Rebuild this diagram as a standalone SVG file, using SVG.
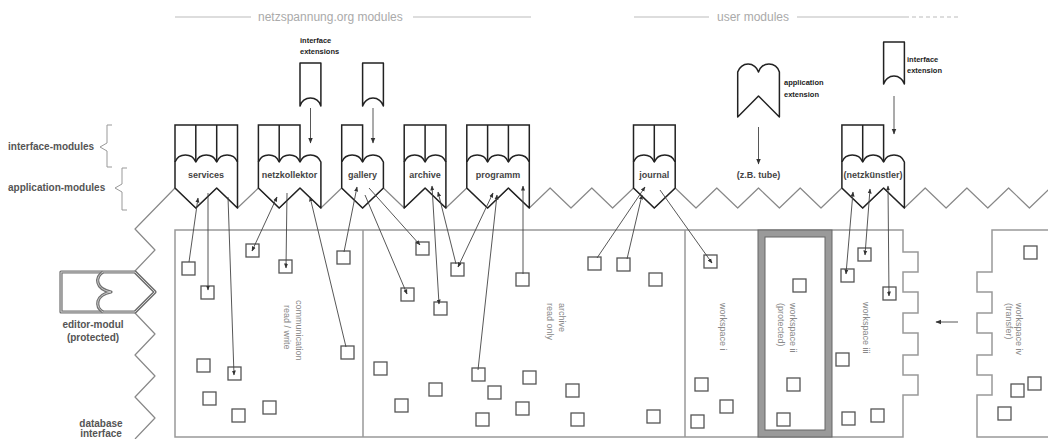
<svg xmlns="http://www.w3.org/2000/svg" width="1048" height="439" viewBox="0 0 1048 439">
<defs>
<marker id="ah" viewBox="0 0 10 10" refX="9" refY="5" markerWidth="5" markerHeight="5" markerUnits="userSpaceOnUse" orient="auto-start-reverse"><path d="M0,1 L10,5 L0,9 Z" fill="#333"/></marker>
<marker id="ahb" viewBox="0 0 10 10" refX="9" refY="5" markerWidth="6" markerHeight="6" markerUnits="userSpaceOnUse" orient="auto-start-reverse"><path d="M0,1 L10,5 L0,9 Z" fill="#333"/></marker>
</defs>
<style>
text{font-family:"Liberation Sans",Arial,sans-serif}
.hdr{font-size:12px;fill:#aaa}
.hl{stroke:#bbb;stroke-width:1;fill:none}
.side{font-size:10px;font-weight:bold;fill:#555}
.lbl{font-size:9px;font-weight:bold;fill:#444;text-anchor:middle}
.ext{font-size:7.5px;font-weight:bold;fill:#222}
.rot{font-size:9px;fill:#888}
.mod{fill:#fff;stroke:#222;stroke-width:1.5;stroke-linejoin:round}
.col{fill:none;stroke:#222;stroke-width:1.5}
.zz{fill:none;stroke:#888;stroke-width:1.2;stroke-linejoin:round}
.db{fill:none;stroke:#999;stroke-width:1.5}
.sq{fill:#fff;stroke:#555;stroke-width:1.3}
.cn{stroke:#444;stroke-width:0.9;fill:none}
.br{fill:none;stroke:#999;stroke-width:1}
.prot{fill:none;stroke:#707070;stroke-width:3.2;stroke-linejoin:round}
.protin{fill:none;stroke:#d0d0d0;stroke-width:1}
</style>

<!-- header -->
<g id="header">
<line class="hl" x1="175" y1="17" x2="251" y2="17"/>
<text class="hdr" x="258" y="21">netzspannung.org modules</text>
<line class="hl" x1="413" y1="17" x2="531" y2="17"/>
<line class="hl" x1="634" y1="17" x2="709" y2="17"/>
<text class="hdr" x="717" y="21">user modules</text>
<line class="hl" x1="797" y1="17" x2="905" y2="17"/>
<line class="hl" x1="905" y1="17" x2="960" y2="17" stroke-dasharray="4 3"/>
</g>

<!-- side labels -->
<g id="side-labels">
<text class="side" x="8" y="150">interface-modules</text>
<path class="br" d="M112,125 H107 V143 L100,147 L107,151 V167 H112"/>
<text class="side" x="8" y="191">application-modules</text>
<path class="br" d="M127,168 H122 V184 L115,188 L122,192 V210 H127"/>
</g>

<!-- database area -->
<g id="database">
<path class="zz" d="M135,439 L155,418 L135,397 L155,376 L135,355 L155,334 L135,313 L155,292 L135,271 L155,250 L135,229 L175,188 L195.8,208 L216.7,188 L237.5,208 L258.4,188 L279.2,208 L300,188 L320.9,208 L341.7,188 L362.6,208 L383.4,188 L404.2,208 L425.1,188 L445.9,208 L466.8,188 L487.6,208 L508.4,188 L529.3,208 L550.1,188 L571,208 L591.8,188 L612.6,208 L633.5,188 L654.3,208 L675.2,188 L696,208 L716.8,188 L737.7,208 L758.5,188 L779.4,208 L800.2,188 L821,208 L841.9,188 L862.7,208 L883.6,188 L904.4,208 L925.2,188 L946.1,208 L966.9,188 L987.8,208 L1008.6,188 L1029.4,208 L1050.3,188"/>
<path class="db" d="M175,230 H903 V252 H918 V272 H903 V292 H918 V313 H903 V333 H918 V355 H903 V375 H918 V395 H903 V437 H175 Z"/>
<line class="db" x1="363" y1="230" x2="363" y2="437"/>
<line class="db" x1="685" y1="230" x2="685" y2="437"/>
<rect x="761.5" y="233.5" width="67" height="200" fill="none" stroke="#9a9a9a" stroke-width="7"/>
<rect x="758" y="230" width="74" height="207" fill="none" stroke="#666" stroke-width="1"/>
<rect x="765" y="237" width="60" height="193" fill="none" stroke="#666" stroke-width="1"/>
<path class="db" d="M1050,230 H992 V272 H977 V292 H992 V313 H977 V333 H992 V355 H977 V375 H992 V395 H977 V437 H1050"/>
<line class="cn" x1="958" y1="322" x2="936" y2="322" marker-end="url(#ahb)"/>
<text class="rot" transform="translate(296,300) rotate(90)">communication</text>
<text class="rot" transform="translate(284,305) rotate(90)">read / write</text>
<text class="rot" transform="translate(559,303) rotate(90)">archive</text>
<text class="rot" transform="translate(547,303) rotate(90)">read only</text>
<text class="rot" transform="translate(720,303) rotate(90)">workspace i</text>
<text class="rot" transform="translate(790,303) rotate(90)">workspace ii</text>
<text class="rot" transform="translate(778,303) rotate(90)">(protected)</text>
<text class="rot" transform="translate(863,302) rotate(90)">workspace iii</text>
<text class="rot" transform="translate(1016,303) rotate(90)">workspace iv</text>
<text class="rot" transform="translate(1006,303) rotate(90)">(transfer)</text>
<text class="side" x="101" y="427" text-anchor="middle" font-size="9">database</text>
<text class="side" x="101" y="437" text-anchor="middle" font-size="9">interface</text>
</g>

<!-- editor module -->
<g id="editor-modul">
<path class="prot" d="M61,272 H135 L155,292 L135,312 H61 Z"/>
<path class="protin" d="M61,272 H135 L155,292 L135,312 H61 Z"/>
<path class="prot" d="M103,272 C95,277 95,289 111,292 C95,295 95,307 103,312"/>
<path class="protin" d="M103,272 C95,277 95,289 111,292 C95,295 95,307 103,312"/>
<text class="side" x="93" y="328" text-anchor="middle">editor-modul</text>
<text class="side" x="93" y="341" text-anchor="middle">(protected)</text>
</g>

<!-- squares -->
<g id="data-items">
<rect class="sq" x="182" y="262" width="13" height="13"/>
<rect class="sq" x="201" y="286" width="13" height="13"/>
<rect class="sq" x="228" y="367" width="13" height="13"/>
<rect class="sq" x="246" y="244" width="13" height="13"/>
<rect class="sq" x="279" y="260" width="13" height="13"/>
<rect class="sq" x="341" y="346" width="13" height="13"/>
<rect class="sq" x="197" y="359" width="13" height="13"/>
<rect class="sq" x="203" y="392" width="13" height="13"/>
<rect class="sq" x="232" y="409" width="13" height="13"/>
<rect class="sq" x="263" y="401" width="13" height="13"/>
<rect class="sq" x="337" y="251" width="13" height="13"/>
<rect class="sq" x="416" y="242" width="13" height="13"/>
<rect class="sq" x="451" y="263" width="13" height="13"/>
<rect class="sq" x="401" y="288" width="13" height="13"/>
<rect class="sq" x="434" y="302" width="13" height="13"/>
<rect class="sq" x="516" y="273" width="13" height="13"/>
<rect class="sq" x="588" y="257" width="13" height="13"/>
<rect class="sq" x="617" y="258" width="13" height="13"/>
<rect class="sq" x="649" y="273" width="13" height="13"/>
<rect class="sq" x="374" y="362" width="13" height="13"/>
<rect class="sq" x="429" y="383" width="13" height="13"/>
<rect class="sq" x="395" y="399" width="13" height="13"/>
<rect class="sq" x="472" y="368" width="13" height="13"/>
<rect class="sq" x="488" y="386" width="13" height="13"/>
<rect class="sq" x="523" y="371" width="13" height="13"/>
<rect class="sq" x="516" y="402" width="13" height="13"/>
<rect class="sq" x="476" y="413" width="13" height="13"/>
<rect class="sq" x="566" y="384" width="13" height="13"/>
<rect class="sq" x="571" y="413" width="13" height="13"/>
<rect class="sq" x="647" y="410" width="13" height="13"/>
<rect class="sq" x="704" y="255" width="13" height="13"/>
<rect class="sq" x="695" y="378" width="13" height="13"/>
<rect class="sq" x="720" y="400" width="13" height="13"/>
<rect class="sq" x="691" y="415" width="13" height="13"/>
<rect class="sq" x="793" y="279" width="13" height="13"/>
<rect class="sq" x="787" y="378" width="13" height="13"/>
<rect class="sq" x="777" y="413" width="13" height="13"/>
<rect class="sq" x="841" y="269" width="13" height="13"/>
<rect class="sq" x="858" y="248" width="13" height="13"/>
<rect class="sq" x="883" y="287" width="13" height="13"/>
<rect class="sq" x="836" y="353" width="13" height="13"/>
<rect class="sq" x="842" y="412" width="13" height="13"/>
<rect class="sq" x="871" y="409" width="13" height="13"/>
<rect class="sq" x="1024" y="246" width="13" height="13"/>
<rect class="sq" x="1028" y="377" width="13" height="13"/>
<rect class="sq" x="1011" y="384" width="13" height="13"/>
<rect class="sq" x="998" y="407" width="13" height="13"/>
</g>

<!-- modules -->
<g id="services">
<path class="mod" d="M175,188 V162 A11.3,11.3 0 0 1 195.8,162 A11.3,11.3 0 0 1 216.7,162 A11.3,11.3 0 0 1 237.5,162 V208 L216.7,188 L195.8,208 Z"/>
<path class="col" d="M175,162 V125 H237.5 V162 M195.8,125 V162 M216.7,125 V162"/>
<text class="lbl" x="206" y="178">services</text>
</g>
<g id="netzkollektor">
<path class="mod" d="M258.4,188 V162 A11.3,11.3 0 0 1 279.2,162 A11.3,11.3 0 0 1 300,162 A11.3,11.3 0 0 1 320.9,162 V208 L300,188 L279.2,208 Z"/>
<path class="col" d="M258.4,162 V125 H300 V162 M279.2,125 V162"/>
<text class="lbl" x="289.6" y="178">netzkollektor</text>
</g>
<g id="gallery">
<path class="mod" d="M341.7,188 V162 A11.3,11.3 0 0 1 362.6,162 A11.3,11.3 0 0 1 383.4,162 V188 L362.6,208 Z"/>
<path class="col" d="M341.7,162 V125 H362.6 V162"/>
<text class="lbl" x="362.6" y="178">gallery</text>
</g>
<g id="archive">
<path class="mod" d="M404.2,208 V162 A11.3,11.3 0 0 1 425.1,162 A11.3,11.3 0 0 1 445.9,162 V208 L425.1,188 Z"/>
<path class="col" d="M404.2,162 V125 H445.9 V162 M425.1,125 V162"/>
<text class="lbl" x="425.1" y="178">archive</text>
</g>
<g id="programm">
<path class="mod" d="M466.8,188 V162 A11.3,11.3 0 0 1 487.6,162 A11.3,11.3 0 0 1 508.4,162 A11.3,11.3 0 0 1 529.3,162 V208 L508.4,188 L487.6,208 Z"/>
<path class="col" d="M466.8,162 V125 H529.3 V162 M487.6,125 V162 M508.4,125 V162"/>
<text class="lbl" x="498" y="178">programm</text>
</g>
<g id="journal">
<path class="mod" d="M633.5,188 V162 A11.3,11.3 0 0 1 654.3,162 A11.3,11.3 0 0 1 675.2,162 V188 L654.3,208 Z"/>
<path class="col" d="M633.5,162 V125 H675.2 V162 M654.3,125 V162"/>
<text class="lbl" x="654.3" y="178">journal</text>
</g>
<g id="netzkuenstler">
<path class="mod" d="M841.9,188 V162 A11.3,11.3 0 0 1 862.7,162 A11.3,11.3 0 0 1 883.6,162 A11.3,11.3 0 0 1 904.4,162 V208 L883.6,188 L862.7,208 Z"/>
<path class="col" d="M841.9,162 V125 H883.6 V162 M862.7,125 V162"/>
<text class="lbl" x="873" y="178" font-size="8.5">(netzkünstler)</text>
</g>

<!-- extensions -->
<g id="interface-extensions">
<text class="ext" x="300" y="43">interface</text>
<text class="ext" x="300" y="54">extensions</text>
<path class="mod" d="M300,106 V63 H320.9 V106 A10.8,10.8 0 0 0 300,106 Z"/>
<path class="mod" d="M362.6,106 V63 H383.4 V106 A10.8,10.8 0 0 0 362.6,106 Z"/>
</g>
<g id="application-extension">
<path class="mod" d="M737.7,117 V72 A10.8,10.8 0 0 1 758.5,72 A10.8,10.8 0 0 1 779.4,72 V117 L758.5,96 Z"/>
<text class="ext" x="784" y="85">application</text>
<text class="ext" x="784" y="97">extension</text>
<text class="lbl" x="758.5" y="178">(z.B. tube)</text>
</g>
<g id="interface-extension">
<path class="mod" d="M883.6,84 V42 H904.4 V84 A10.8,10.8 0 0 0 883.6,84 Z"/>
<text class="ext" x="907" y="62">interface</text>
<text class="ext" x="907" y="73">extension</text>
</g>

<!-- connectors -->
<g id="connectors">
<line class="cn" x1="310.5" y1="108" x2="310.5" y2="143" marker-end="url(#ahb)"/>
<line class="cn" x1="373" y1="108" x2="373" y2="143" marker-end="url(#ahb)"/>
<line class="cn" x1="894" y1="96" x2="894" y2="134" marker-end="url(#ahb)"/>
<line class="cn" x1="758.5" y1="127" x2="758.5" y2="164" marker-end="url(#ahb)"/>
<line class="cn" x1="198" y1="198" x2="189" y2="262" marker-start="url(#ah)"/>
<line class="cn" x1="208" y1="193" x2="208" y2="290" marker-end="url(#ah)"/>
<line class="cn" x1="228" y1="197" x2="234" y2="375" marker-end="url(#ah)"/>
<line class="cn" x1="277" y1="197" x2="252" y2="251" marker-start="url(#ah)" marker-end="url(#ah)"/>
<line class="cn" x1="287" y1="193" x2="286" y2="268" marker-end="url(#ah)"/>
<line class="cn" x1="310" y1="197" x2="346" y2="347" marker-start="url(#ah)"/>
<line class="cn" x1="357" y1="187" x2="344" y2="252" marker-start="url(#ah)"/>
<line class="cn" x1="365" y1="195" x2="407" y2="294" marker-end="url(#ah)"/>
<line class="cn" x1="369" y1="188" x2="420" y2="245" marker-end="url(#ah)"/>
<line class="cn" x1="432" y1="186" x2="439" y2="304" marker-start="url(#ah)" marker-end="url(#ah)"/>
<line class="cn" x1="438" y1="192" x2="456" y2="264" marker-start="url(#ah)"/>
<line class="cn" x1="493" y1="193" x2="458" y2="267" marker-start="url(#ah)" marker-end="url(#ah)"/>
<line class="cn" x1="497" y1="195" x2="478" y2="370" marker-start="url(#ah)"/>
<line class="cn" x1="523" y1="186" x2="523" y2="274" marker-start="url(#ah)"/>
<line class="cn" x1="645" y1="187" x2="597" y2="258" marker-start="url(#ah)"/>
<line class="cn" x1="642" y1="195" x2="627" y2="259" marker-start="url(#ah)"/>
<line class="cn" x1="660" y1="190" x2="712" y2="263" marker-end="url(#ah)"/>
<line class="cn" x1="853" y1="192" x2="846" y2="274" marker-start="url(#ah)" marker-end="url(#ah)"/>
<line class="cn" x1="870" y1="189" x2="865" y2="255" marker-start="url(#ah)" marker-end="url(#ah)"/>
<line class="cn" x1="888" y1="186" x2="889" y2="296" marker-start="url(#ah)" marker-end="url(#ah)"/>
</g>
</svg>
